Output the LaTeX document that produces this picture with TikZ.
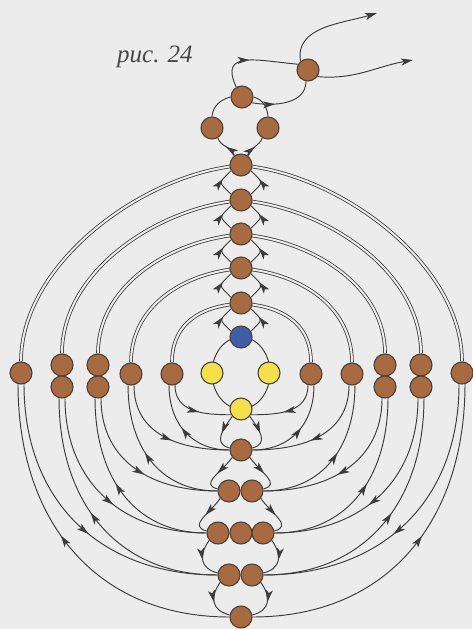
\documentclass[tikz,border=0pt]{standalone}
\usepackage{fontspec}
\setmainfont{Liberation Serif}
\usetikzlibrary{arrows.meta, decorations.markings, backgrounds}
\definecolor{cbrown}{HTML}{A86A40}
\definecolor{cblue}{HTML}{3E5EA8}
\definecolor{cyellow}{HTML}{F4E14A}
\definecolor{cline}{HTML}{3C3C3C}
\definecolor{crim}{HTML}{4E4238}
\definecolor{cpaper}{HTML}{ECECEC}
\pgfdeclarelayer{paper}
\pgfsetlayers{paper,background,main}
\tikzset{
  bead/.style={circle, draw=crim, fill=#1, line width=1.1pt, minimum size=22pt, inner sep=0pt},
  bead/.default=cbrown,
  thread/.style={draw=cline, line width=0.95pt},
  twin/.style={draw=cline, line width=0.8pt, double=cpaper, double distance=2pt},
  tip/.style={thread, -{Stealth[length=12pt, width=7pt, inset=3pt]}},
  fwd/.style={thread, postaction={decorate}, decoration={markings, mark=at position #1 with {\arrow{Stealth[length=12pt, width=7pt, inset=3pt]}}}},
  fwd/.default=0.5,
  bwd/.style={thread, postaction={decorate}, decoration={markings, mark=at position #1 with {\arrowreversed{Stealth[length=12pt, width=7pt, inset=3pt]}}}},
  bwd/.default=0.5,
  title/.style={font=\fontsize{25}{30}\selectfont\itshape, text=black!72, anchor=base west, inner sep=0pt},
}
\begin{document}
\begin{tikzpicture}[x=1pt, y=1pt]
  \useasboundingbox (0,0) rectangle (472,629);
  \begin{pgfonlayer}{paper}
    \fill[cpaper] (0,0) rectangle (472,629);
  \end{pgfonlayer}

  \node[title] (label) at (117,566) {рис.\hspace{8pt}24};

  % ---- tail loop
  \node[bead] (tb) at (308,559) {};
  \node[bead] (t0) at (242,532) {};
  \node[bead] (tl) at (212,501) {};
  \node[bead] (tr) at (268,501) {};
  \coordinate (end1) at (377,616);
  \coordinate (end2) at (413,569);

  % ---- spine
  \node[bead] (c1) at (241,464) {};
  \node[bead] (c2) at (241,429) {};
  \node[bead] (c3) at (241,395) {};
  \node[bead] (c4) at (241,361) {};
  \node[bead] (c5) at (241,326) {};
  \node[bead=cblue] (bl) at (241,292) {};
  \node[bead=cyellow] (yl) at (212,256) {};
  \node[bead=cyellow] (yr) at (269,256) {};
  \node[bead=cyellow] (yb) at (241,220) {};

  % ---- side beads
  \node[bead] (s5l)  at (21,256)  {};
  \node[bead] (s4la) at (62,264)  {};
  \node[bead] (s4lb) at (62,242)  {};
  \node[bead] (s3la) at (98,264)  {};
  \node[bead] (s3lb) at (98,242)  {};
  \node[bead] (s2l)  at (131,255) {};
  \node[bead] (s1l)  at (172,255) {};
  \node[bead] (s1r)  at (311,255) {};
  \node[bead] (s2r)  at (352,255) {};
  \node[bead] (s3ra) at (385,264) {};
  \node[bead] (s3rb) at (385,242) {};
  \node[bead] (s4ra) at (421,264) {};
  \node[bead] (s4rb) at (421,242) {};
  \node[bead] (s5r)  at (462,256) {};

  % ---- lower rows
  \node[bead] (r1)  at (241,179) {};
  \node[bead] (r2a) at (229,138) {};
  \node[bead] (r2b) at (252,138) {};
  \node[bead] (r3a) at (218,96)  {};
  \node[bead] (r3b) at (241,96)  {};
  \node[bead] (r3c) at (263,96)  {};
  \node[bead] (r4a) at (229,54)  {};
  \node[bead] (r4b) at (252,54)  {};
  \node[bead] (r5)  at (241,12)  {};

  \begin{scope}[on background layer]
    % tail
    \draw[fwd] (c1.125) to[out=110,in=-70] (tl.-60);
    \draw[fwd] (c1.55) to[out=70,in=-110] (tr.-120);
    \draw[thread] (tl.north) to[out=85,in=195] (t0.west);
    \draw[thread] (tr.north) to[out=95,in=-15] (t0.east);
    \draw[fwd=0.45] (t0.120) to[out=115,in=175,looseness=1.6] (tb.150);
    \draw[fwd=0.35] (t0.-30) to[out=-10,in=-90] (tb.-100);
    \draw[tip] (tb.130) to[out=100,in=197] (end1);
    \draw[tip] (tb.-35) to[out=-5,in=190] (end2);

    % upper arcs
    \foreach \c/\l/\r/\k in {c1/s5l/s5r/0.85, c2/s4la/s4ra/0.9, c3/s3la/s3ra/0.95, c4/s2l/s2r/1.0, c5/s1l/s1r/1.1} {
      \draw[twin] (\c) to[out=188,in=90,looseness=\k] (\l);
      \draw[twin] (\c) to[out=-8,in=90,looseness=\k] (\r);
    }
    \foreach \a/\b in {bl/c5, c5/c4, c4/c3, c3/c2, c2/c1} {
      \draw[fwd=0.62] (\a.150) to[out=135,in=-135,looseness=2] (\b.-150);
      \draw[fwd=0.62] (\a.30) to[out=45,in=-45,looseness=2] (\b.-30);
    }
    \draw[thread] (bl |- yl) ellipse (29 and 36);

    % lower arcs
    \foreach \s/\a/\b in {s1l/yb.-150/r1.west, s2l/r1.west/r2a.west, s3lb/r2a.west/r3a.west, s4lb/r3a.west/r4a.west, s5l/r4a.west/r5.west} {
      \draw[fwd=0.55] (\s.-75) to[out=-90,in=180,looseness=1.1] (\a);
      \draw[bwd=0.45] (\s.-105) to[out=-90,in=180,looseness=1.1] (\b);
    }
    \foreach \s/\a/\b in {s1r/yb.-30/r1.east, s2r/r1.east/r2b.east, s3rb/r2b.east/r3c.east, s4rb/r3c.east/r4b.east, s5r/r4b.east/r5.east} {
      \draw[fwd=0.55] (\s.-105) to[out=-90,in=0,looseness=1.1] (\a);
      \draw[bwd=0.45] (\s.-75) to[out=-90,in=0,looseness=1.1] (\b);
    }
    \foreach \a/\b/\c/\d in {yb/r1/yb/r1, r1/r2a/r1/r2b, r2a/r3a/r2b/r3c, r3a/r4a/r3c/r4b, r4a/r5/r4b/r5} {
      \draw[fwd=0.5] (\a.-140) to[out=-125,in=165,looseness=1.4] (\b.170);
      \draw[fwd=0.5] (\c.-40) to[out=-55,in=15,looseness=1.4] (\d.10);
    }
  \end{scope}
\end{tikzpicture}
\end{document}
